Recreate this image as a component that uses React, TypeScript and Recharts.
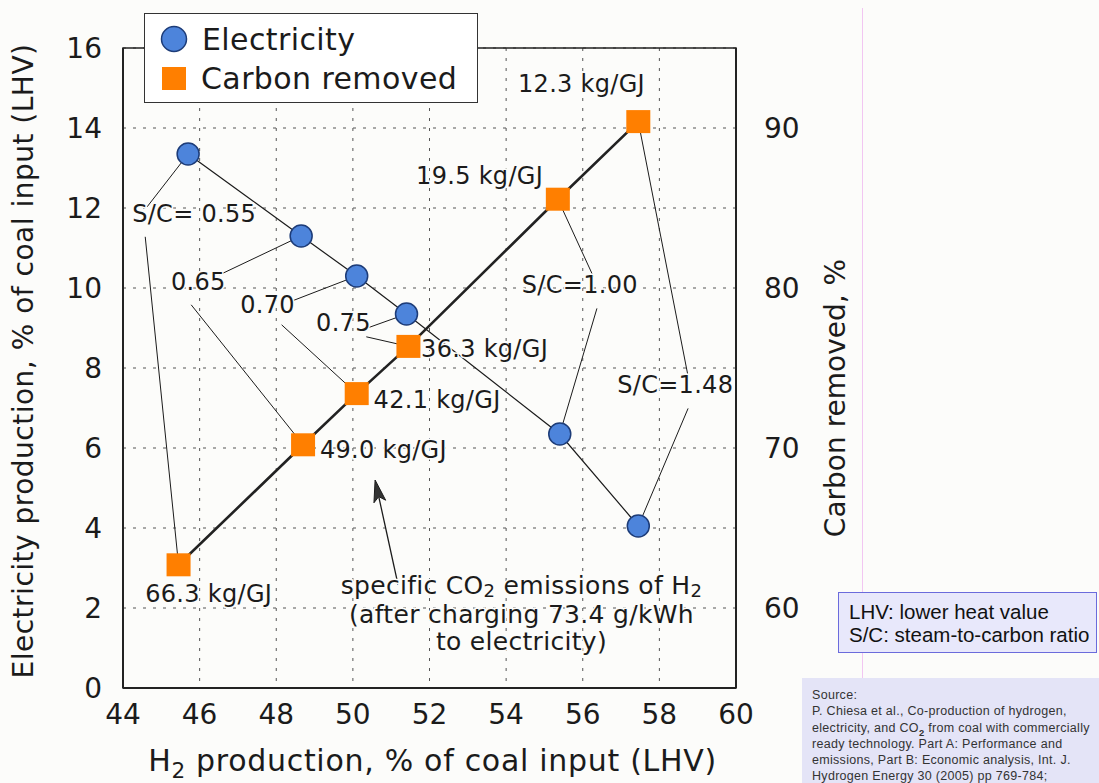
import React from "react";
import { ScatterChart, Scatter, XAxis, YAxis, CartesianGrid, ReferenceArea, Legend, Label } from "recharts";

const FONT = '"DejaVu Sans", Verdana, sans-serif';
const INK = "#1b1b1b";
const BG = "#fcfcfa";
const BLUE = "#4d84db";
const BLUE_EDGE = "#1d3c78";
const ORANGE = "#ff7f00";

// Electricity production (% of coal input, left axis) vs H2 production
const elecH2 = [45.7, 48.65, 50.1, 51.4, 55.4, 57.45];
const elecPower = [13.35, 11.3, 10.3, 9.35, 6.35, 4.05];

// Carbon removed (%, right axis) vs H2 production
const carbonH2 = [45.45, 48.7, 50.1, 51.45, 55.35, 57.45];
const carbonPct = [62.7, 70.2, 73.4, 76.35, 85.55, 90.4];

const seriesNames = ["Electricity", "Carbon removed"];

const xTicks = [44, 46, 48, 50, 52, 54, 56, 58, 60];
const leftTicks = [0, 2, 4, 6, 8, 10, 12, 14, 16];
const rightTicks = [60, 70, 80, 90];
const xDomain = [44, 60];
const leftDomain = [0, 16];
const rightDomain = [55, 95];

// annotation texts, in chart units (left axis)
const noteText = ["12.3 kg/GJ", "19.5 kg/GJ", "36.3 kg/GJ", "42.1 kg/GJ", "49.0 kg/GJ", "66.3 kg/GJ",
    "S/C= 0.55", "0.65", "0.70", "0.75", "S/C=1.00", "S/C=1.48"];
const noteX = [54.31, 51.65, 51.78, 50.54, 49.14, 44.58, 44.24, 45.25, 47.06, 49.04, 54.41, 56.9];
const noteY = [14.9, 12.6, 8.28, 6.99, 5.75, 2.16, 11.66, 9.95, 9.38, 8.93, 9.87, 7.37];

// centred note under the arrow
const footText = ["specific CO_2 emissions of H_2", "(after charging 73.4 g/kWh", "to electricity)"];
const footX = [54.4, 54.4, 54.4];
const footY = [2.36, 1.63, 0.96];

// leader lines: start point (chart units) -> marker they point at
const leaderX = [44.63, 44.58, 46.52, 45.78, 48.37, 48.14, 50.35, 50.35, 56.28, 56.37, 58.76, 58.75];
const leaderY = [12.03, 11.28, 10.33, 9.58, 9.66, 9.08, 8.99, 8.78, 10.28, 9.49, 7.74, 6.99];
const leaderSeries = ["e", "c", "e", "c", "e", "c", "e", "c", "c", "e", "c", "e"];
const leaderIdx = [0, 0, 1, 1, 2, 2, 3, 3, 4, 4, 5, 5];

// arrow pointing at the kg/GJ labels (tail, tip)
const arrowX = [51.18, 50.58];
const arrowY = [2.58, 5.2];

const sourceLines = [
    "Source:",
    "P. Chiesa et al., Co-production of hydrogen,",
    "electricity, and CO_2 from coal with commercially",
    "ready technology. Part A: Performance and",
    "emissions, Part B: Economic analysis, Int. J.",
    "Hydrogen Energy 30 (2005) pp 769-784;",
];

// carbon % -> left axis units (both axes share the plot height)
const toLeft = (c: number) =>
    leftDomain[0] + ((c - rightDomain[0]) * (leftDomain[1] - leftDomain[0])) / (rightDomain[1] - rightDomain[0]);

const elecData = elecH2.map((x, i) => ({ x, y: elecPower[i] }));
const carbonData = carbonH2.map((x, i) => ({ x, y: carbonPct[i] }));
const noteData = noteText.map((t, i) => ({ x: noteX[i], y: noteY[i], t }));
const footData = footText.map((t, i) => ({ x: footX[i], y: footY[i], t }));
const leaders = leaderX.map((x, i) => {
    const k = leaderIdx[i];
    const end = leaderSeries[i] === "e"
        ? { x: elecH2[k], y: elecPower[k] }
        : { x: carbonH2[k], y: toLeft(carbonPct[k]) };
    return [{ x, y: leaderY[i] }, end];
});
const arrowData = arrowX.map((x, i) => ({ x, y: arrowY[i] }));

// "_2" -> subscript 2
const richText = (s: string, size: number, drop = 0.28) =>
    s.split(/_(\d)/).map((part, i) =>
        i % 2 === 1
            ? <tspan key={i} fontSize={size * 0.72} dy={size * drop}>{part}</tspan>
            : <tspan key={i} dy={i === 0 ? 0 : -size * drop}>{part}</tspan>
    );

const htmlRich = (s: string) =>
    s.split(/_(\d)/).map((part, i) =>
        i % 2 === 1 ? <sub key={i} style={{ fontSize: "0.75em", lineHeight: 0, fontWeight: 700 }}>{part}</sub> : <span key={i}>{part}</span>
    );

const Circle = (p: any) => (
    <circle cx={p.cx} cy={p.cy} r={11} fill={BLUE} stroke={BLUE_EDGE} strokeWidth={1.5} />
);
const Square = (p: any) => <rect x={p.cx - 12} y={p.cy - 11.5} width={24} height={23} fill={ORANGE} />;
const Nothing = () => <g />;

const NoteShape = (anchor: "start" | "middle", size: number, spacing: number, drop: number) => (p: any) => (
    <text x={p.cx} y={p.cy} dy="0.36em" textAnchor={anchor} fontSize={size} fontFamily={FONT} fill={INK}
        letterSpacing={spacing} stroke={BG} strokeWidth={3} paintOrder="stroke">
        {richText(p.payload.t, size, drop)}
    </text>
);

const arrowLine = (p: any) => {
    const [a, b] = p.points;
    const ang = Math.atan2(b.y - a.y, b.x - a.x);
    const len = 22;
    const half = 6;
    const cx = Math.cos(ang), sy = Math.sin(ang);
    const bx = b.x - len * cx, by = b.y - len * sy;
    const nx = -sy * half, ny = cx * half;
    const notchX = b.x - (len - 5) * cx, notchY = b.y - (len - 5) * sy;
    return (
        <g>
            <line x1={a.x} y1={a.y} x2={notchX} y2={notchY} stroke={INK} strokeWidth={1.3} />
            <polygon points={`${b.x},${b.y} ${bx + nx},${by + ny} ${notchX},${notchY} ${bx - nx},${by - ny}`}
                fill="#333" stroke={INK} strokeWidth={1} />
        </g>
    );
};

const xTitle = (props: any) => {
    const vb = props.viewBox;
    return (
        <text x={vb.x + vb.width / 2 + 3} y={vb.y + 83} textAnchor="middle" fontSize={30} letterSpacing={0.7}
            fontFamily={FONT} fill={INK}>
            {richText("H_2 production, % of coal input (LHV)", 30, 0.22)}
        </text>
    );
};
const leftTitle = (props: any) => {
    const vb = props.viewBox;
    const x = vb.x + 33, y = vb.y + vb.height / 2 - 7;
    return (
        <text x={x} y={y} transform={`rotate(-90, ${x}, ${y})`} textAnchor="middle" fontSize={28} letterSpacing={0.5}
            fontFamily={FONT} fill={INK}>
            Electricity production, % of coal input (LHV)
        </text>
    );
};
const rightTitle = (props: any) => {
    const vb = props.viewBox;
    const x = vb.x + 109, y = vb.y + 350;
    return (
        <text x={x} y={y} transform={`rotate(-90, ${x}, ${y})`} textAnchor="middle" fontSize={28} fontFamily={FONT} fill={INK}>
            Carbon removed, %
        </text>
    );
};

const LegendBox = () => (
    <div style={{ width: 334, height: 90, boxSizing: "border-box", border: "1.5px solid #333", background: "#fff" }}>
        <svg width={331} height={87} style={{ display: "block" }}>
            <circle cx={29} cy={25} r={12.5} fill={BLUE} stroke={BLUE_EDGE} strokeWidth={1.5} />
            <text x={57} y={25} dy="0.36em" fontSize={30} letterSpacing={0.4} fontFamily={FONT} fill={INK}>{seriesNames[0]}</text>
            <rect x={17} y={53} width={24} height={23} fill={ORANGE} />
            <text x={56} y={64} dy="0.36em" fontSize={30} letterSpacing={0.4} fontFamily={FONT} fill={INK}>{seriesNames[1]}</text>
        </svg>
    </div>
);

const tickStyle = { fontSize: 28, fill: INK, fontFamily: FONT };

export default function App() {
    return (
        <div style={{ position: "absolute", top: 0, left: 0, width: 1099, height: 783, background: BG, overflow: "hidden" }}>
            <ScatterChart width={900} height={783} margin={{ top: 48, right: 0, bottom: 0, left: 0 }}>
                <CartesianGrid yAxisId="left" stroke="#555" strokeDasharray="3 7" strokeWidth={1} />
                <XAxis type="number" dataKey="x" domain={xDomain} ticks={xTicks} allowDataOverflow height={95}
                    tick={tickStyle} tickLine={false} tickSize={0} tickMargin={16}
                    axisLine={{ stroke: "#222", strokeWidth: 2 }}>
                    <Label content={xTitle} />
                </XAxis>
                <YAxis yAxisId="left" type="number" dataKey="y" domain={leftDomain} ticks={leftTicks} allowDataOverflow width={123}
                    tick={tickStyle} tickLine={false} tickSize={0} tickMargin={21}
                    axisLine={{ stroke: "#222", strokeWidth: 2 }}>
                    <Label content={leftTitle} />
                </YAxis>
                <YAxis yAxisId="right" orientation="right" type="number" dataKey="y" domain={rightDomain} ticks={rightTicks}
                    allowDataOverflow width={164} tick={tickStyle} tickLine={false} tickSize={0} tickMargin={28}
                    axisLine={{ stroke: "#222", strokeWidth: 2 }}>
                    <Label content={rightTitle} />
                </YAxis>
                <ReferenceArea yAxisId="left" x1={xDomain[0]} x2={xDomain[1]} y1={leftDomain[0]} y2={leftDomain[1]}
                    fill="none" stroke="#222" strokeWidth={1.5} fillOpacity={0} ifOverflow="visible" />

                {leaders.map((seg, i) => (
                    <Scatter key={`leader-${i}`} yAxisId="left" data={seg} shape={Nothing} legendType="none"
                        line={{ stroke: INK, strokeWidth: 1 }} isAnimationActive={false} />
                ))}
                <Scatter yAxisId="left" data={arrowData} shape={Nothing} legendType="none" line={arrowLine}
                    isAnimationActive={false} />

                <Scatter name={seriesNames[0]} yAxisId="left" data={elecData} shape={Circle} fill={BLUE}
                    line={{ stroke: INK, strokeWidth: 1.2 }} isAnimationActive={false} />
                <Scatter name={seriesNames[1]} yAxisId="right" data={carbonData} shape={Square} fill={ORANGE}
                    line={{ stroke: "#222", strokeWidth: 2.6 }} isAnimationActive={false} />

                <Scatter yAxisId="left" data={noteData} shape={NoteShape("start", 24, 0.3, 0.28)} legendType="none"
                    isAnimationActive={false} />
                <Scatter yAxisId="left" data={footData} shape={NoteShape("middle", 25, 0.3, 0.14)} legendType="none"
                    isAnimationActive={false} />

                <Legend layout="horizontal" verticalAlign="middle" align="center" content={LegendBox}
                    wrapperStyle={{ top: 13, left: 144, width: 334, height: 90 }} />
            </ScatterChart>

            <div style={{ position: "absolute", left: 862, top: 8, width: 1, height: 670, background: "#f2c6f2" }} />
            <div style={{
                position: "absolute", left: 838, top: 592, width: 259, height: 61, boxSizing: "border-box",
                border: "1.5px solid #6b6bdc", background: "#e8e8fb", padding: "7px 0 0 10px",
                fontFamily: '"Liberation Sans", Arial, sans-serif', fontSize: 20.5, lineHeight: "23px", color: "#111",
            }}>
                <div>LHV: lower heat value</div>
                <div>S/C: steam-to-carbon ratio</div>
            </div>
            <div style={{
                position: "absolute", left: 802, top: 678, width: 297, height: 105, boxSizing: "border-box",
                background: "#e4e4f7", padding: "9px 0 0 10px",
                fontFamily: '"Liberation Sans", Arial, sans-serif', fontSize: 12.5, letterSpacing: "0.3px",
                lineHeight: "16.3px", color: "#333",
            }}>
                {sourceLines.map((l, i) => <div key={i} style={{ whiteSpace: "nowrap" }}>{htmlRich(l)}</div>)}
            </div>
        </div>
    );
}
